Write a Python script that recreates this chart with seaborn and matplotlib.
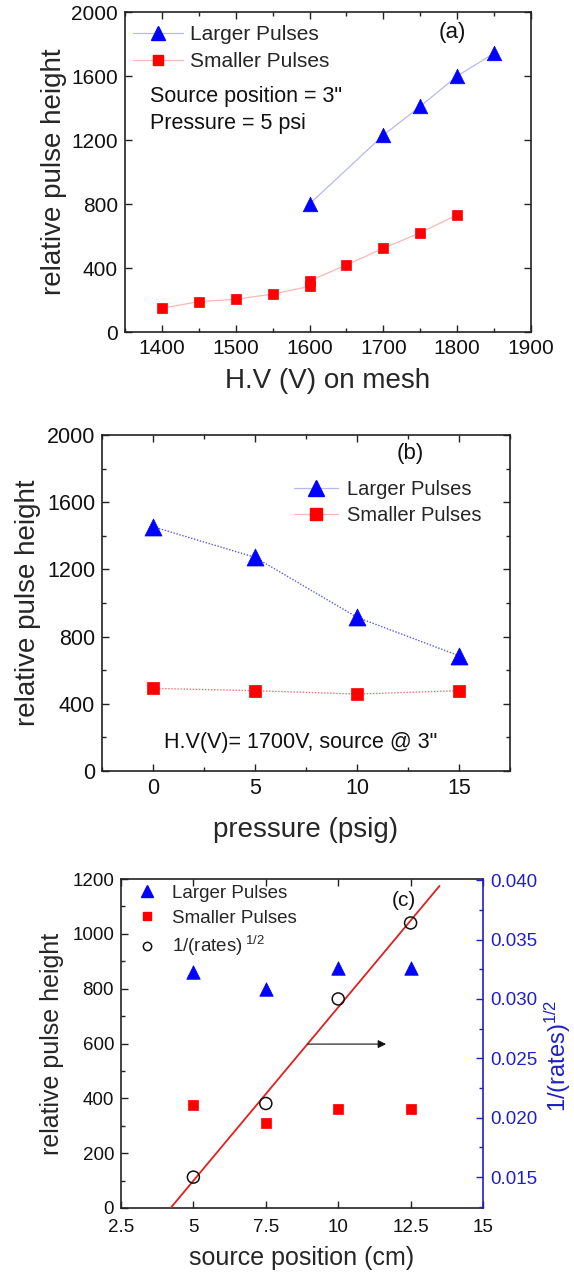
import matplotlib
matplotlib.use("Agg")
import matplotlib.pyplot as plt
from matplotlib.lines import Line2D
from matplotlib.ticker import MultipleLocator, FixedLocator
import numpy as np
import pandas as pd
import seaborn as sns

sns.set_style("ticks")
plt.rcParams['font.family'] = ['Liberation Sans', 'DejaVu Sans']
plt.rcParams['mathtext.fontset'] = 'custom'
plt.rcParams['mathtext.rm'] = 'Liberation Sans'
plt.rcParams['mathtext.it'] = 'Liberation Sans'

# ---------------- data ----------------
# panel (a)
hv_large = [1600, 1700, 1750, 1800, 1850]
ph_large_a = [800, 1230, 1410, 1600, 1742]
hv_small = [1400, 1450, 1500, 1550, 1600, 1600, 1650, 1700, 1750, 1800]
ph_small_a = [148, 190, 204, 237, 285, 320, 419, 523, 621, 731]

# panel (b)
pressure = [0, 5, 10, 15]
ph_large_b = [1454, 1272, 915, 686]
ph_small_b = [492, 478, 458, 478]

# panel (c)
source_pos = [5, 7.5, 10, 12.5]
ph_large_c = [860, 798, 874, 874]
ph_small_c = [375, 310, 360, 360]
inv_sqrt_rate = [0.0150, 0.0212, 0.0300, 0.0364]

BLUE = '#0000ff'
RED = '#ff0000'
AXBLUE = '#1f1fc8'
SPINE = '#222222'

fig = plt.figure(figsize=(5.74, 12.72), dpi=100)
W, H = 574.0, 1272.0

def px_axes(l, t, r, b):
    return fig.add_axes([l / W, 1 - b / H, (r - l) / W, (b - t) / H])

def style(ax, tick_size):
    for s in ax.spines.values():
        s.set_visible(True)
        s.set_color(SPINE)
        s.set_linewidth(1.2)
    ax.tick_params(which='both', direction='in', top=True, right=True,
                   colors=SPINE, labelcolor='#111111', labelsize=tick_size, width=1.0)
    ax.tick_params(which='major', length=5, pad=5)
    ax.tick_params(which='minor', length=3)

# ---------------- panel (a) ----------------
ax1 = px_axes(125, 12, 531, 332)
da_l = pd.DataFrame({'hv': hv_large, 'ph': ph_large_a})
da_s = pd.DataFrame({'hv': hv_small, 'ph': ph_small_a})
sns.lineplot(data=da_l, x='hv', y='ph', ax=ax1, color='#b8b8f0', lw=0.9,
             estimator=None, sort=False)
sns.lineplot(data=da_s, x='hv', y='ph', ax=ax1, color='#f6b8b8', lw=0.9,
             estimator=None, sort=False)
sns.scatterplot(data=da_l, x='hv', y='ph', ax=ax1, marker='^', s=110,
                color=BLUE, edgecolor=BLUE, linewidth=0.5, zorder=3)
sns.scatterplot(data=da_s, x='hv', y='ph', ax=ax1, marker='s', s=60,
                color=RED, edgecolor=RED, linewidth=0.5, zorder=3)
ax1.set_xlim(1350, 1900)
ax1.set_ylim(0, 2000)
ax1.xaxis.set_major_locator(MultipleLocator(100))
ax1.xaxis.set_minor_locator(MultipleLocator(50))
ax1.yaxis.set_major_locator(MultipleLocator(400))
style(ax1, 15)
ax1.set_xlabel('H.V (V) on mesh', fontsize=20, labelpad=7)
ax1.set_ylabel('relative pulse height', fontsize=20, labelpad=3)
h_a = [Line2D([], [], color='#b8b8f0', lw=0.9, marker='^', ms=10.5,
              mfc=BLUE, mec=BLUE),
       Line2D([], [], color='#f6b8b8', lw=0.9, marker='s', ms=7.5,
              mfc=RED, mec=RED)]
ax1.legend(h_a, ['Larger Pulses', 'Smaller Pulses'], loc='upper left',
           bbox_to_anchor=(0.02, 0.958), frameon=False, fontsize=15,
           handlelength=2.4, handletextpad=0.35, labelspacing=0.38,
           borderpad=0, borderaxespad=0)
ax1.text(1384, 1469, 'Source position = 3"', fontsize=15.5, va='center', ha='left', color='#111111')
ax1.text(1384, 1306, 'Pressure = 5 psi', fontsize=15.5, va='center', ha='left', color='#111111')
ax1.text(1793, 1875, '(a)', fontsize=16, va='center', ha='center', color='#111111')

# ---------------- panel (b) ----------------
ax2 = px_axes(102, 435, 510, 771)
db_l = pd.DataFrame({'p': pressure, 'ph': ph_large_b})
db_s = pd.DataFrame({'p': pressure, 'ph': ph_small_b})
sns.lineplot(data=db_l, x='p', y='ph', ax=ax2, color='#5a5ae6', lw=1.0,
             ls=(0, (1, 1.2)), estimator=None, sort=False)
sns.lineplot(data=db_s, x='p', y='ph', ax=ax2, color='#f07070', lw=1.0,
             ls=(0, (1, 1.2)), estimator=None, sort=False)
sns.scatterplot(data=db_l, x='p', y='ph', ax=ax2, marker='^', s=150,
                color=BLUE, edgecolor=BLUE, linewidth=0.5, zorder=3)
sns.scatterplot(data=db_s, x='p', y='ph', ax=ax2, marker='s', s=80,
                color=RED, edgecolor=RED, linewidth=0.5, zorder=3)
ax2.set_xlim(-2.5, 17.5)
ax2.set_ylim(0, 2000)
ax2.xaxis.set_major_locator(MultipleLocator(5))
ax2.xaxis.set_minor_locator(MultipleLocator(2.5))
ax2.yaxis.set_major_locator(MultipleLocator(400))
ax2.yaxis.set_minor_locator(MultipleLocator(200))
style(ax2, 15.5)
ax2.set_xlabel('pressure (psig)', fontsize=20, labelpad=13)
ax2.set_ylabel('relative pulse height', fontsize=20, labelpad=4)
h_b = [Line2D([], [], color='#b8b8f0', lw=0.9, marker='^', ms=11,
              mfc=BLUE, mec=BLUE),
       Line2D([], [], color='#f6b8b8', lw=0.9, marker='s', ms=8,
              mfc=RED, mec=RED)]
ax2.legend(h_b, ['Larger Pulses', 'Smaller Pulses'], loc='upper left',
           bbox_to_anchor=(0.47, 0.866), frameon=False, fontsize=14.5,
           handlelength=2.2, handletextpad=0.45, labelspacing=0.35,
           borderpad=0, borderaxespad=0)
ax2.text(7.25, 168, 'H.V(V)= 1700V, source @ 3"', fontsize=15.5, va='center',
         ha='center', color='#111111')
ax2.text(12.6, 1890, '(b)', fontsize=16, va='center', ha='center', color='#111111')

# ---------------- panel (c) ----------------
ax3 = px_axes(121, 879, 483, 1208)
dc_l = pd.DataFrame({'x': source_pos, 'ph': ph_large_c})
dc_s = pd.DataFrame({'x': source_pos, 'ph': ph_small_c})
dc_r = pd.DataFrame({'x': source_pos, 'r': inv_sqrt_rate})
sns.scatterplot(data=dc_l, x='x', y='ph', ax=ax3, marker='^', s=95,
                color=BLUE, edgecolor=BLUE, linewidth=0.5, zorder=3)
sns.scatterplot(data=dc_s, x='x', y='ph', ax=ax3, marker='s', s=50,
                color=RED, edgecolor=RED, linewidth=0.5, zorder=3)
ax3.set_xlim(2.5, 15)
ax3.set_ylim(0, 1200)
ax3.set_xticks([2.5, 5, 7.5, 10, 12.5, 15])
ax3.set_xticklabels(['2.5', '5', '7.5', '10', '12.5', '15'])
ax3.yaxis.set_major_locator(MultipleLocator(200))
ax3.yaxis.set_minor_locator(MultipleLocator(100))
style(ax3, 13.5)
ax3.tick_params(axis='x', which='major', pad=8)
ax3.tick_params(which='both', right=False)
ax3.spines['right'].set_visible(False)
ax3.set_xlabel('source position (cm)', fontsize=18, labelpad=7)
ax3.set_ylabel('relative pulse height', fontsize=18, labelpad=6)

ax3r = ax3.twinx()
# linear fit through the rate points
coef = np.polyfit(source_pos, inv_sqrt_rate, 1)
fit_x = np.array([3.9, 13.5])
fit = pd.DataFrame({'x': fit_x, 'r': np.polyval(coef, fit_x)})
sns.lineplot(data=fit, x='x', y='r', ax=ax3r, color='#e02020', lw=1.3,
             estimator=None, sort=False)
sns.scatterplot(data=dc_r, x='x', y='r', ax=ax3r, marker='o', s=75,
                facecolor='none', edgecolor='#111111', linewidth=1.1, zorder=3)
ax3r.set_ylim(0.0124, 0.0401)
ax3r.set_xlim(2.5, 15)
ax3r.yaxis.set_major_locator(FixedLocator([0.015, 0.020, 0.025, 0.030, 0.035, 0.040]))
ax3r.yaxis.set_major_formatter(matplotlib.ticker.FormatStrFormatter('%.3f'))
ax3r.yaxis.set_minor_locator(MultipleLocator(0.0025))
for s in ['left', 'top', 'bottom']:
    ax3r.spines[s].set_visible(False)
ax3r.spines['right'].set_visible(True)
ax3r.spines['right'].set_color(AXBLUE)
ax3r.spines['right'].set_linewidth(1.2)
ax3r.tick_params(which='both', direction='in', colors=AXBLUE, labelcolor=AXBLUE,
                 labelsize=13.5, width=1.0, left=False, right=True)
ax3r.tick_params(which='major', length=5, pad=5)
ax3r.tick_params(which='minor', length=3)
ax3r.set_ylabel('')
fig.text(558 / W, 1 - 1056 / H, r'1/(rates)$^{1/2}$', rotation=90, color=AXBLUE,
         fontsize=17, ha='center', va='center')

ax3r.annotate('', xy=(11.75, 0.0262), xytext=(8.85, 0.0262),
              arrowprops=dict(arrowstyle='-|>', color='#111111', lw=0.8,
                              mutation_scale=12))
ax3.text(12.26, 1120, '(c)', fontsize=15, va='center', ha='center', color='#111111')

h_c = [Line2D([], [], ls='none', marker='^', ms=9, mfc=BLUE, mec=BLUE),
       Line2D([], [], ls='none', marker='s', ms=6, mfc=RED, mec=RED),
       Line2D([], [], ls='none', marker='o', ms=6, mfc='none', mec='#111111', mew=1.1)]
ax3.legend(h_c, ['Larger Pulses', 'Smaller Pulses', r'1/(rates)$^{\ 1/2}$'],
           loc='upper left', bbox_to_anchor=(0.045, 0.982), frameon=False,
           fontsize=13.5, handlelength=1.0, handletextpad=0.85, labelspacing=0.4,
           borderpad=0, borderaxespad=0)

fig.savefig('out.png', dpi=100)
